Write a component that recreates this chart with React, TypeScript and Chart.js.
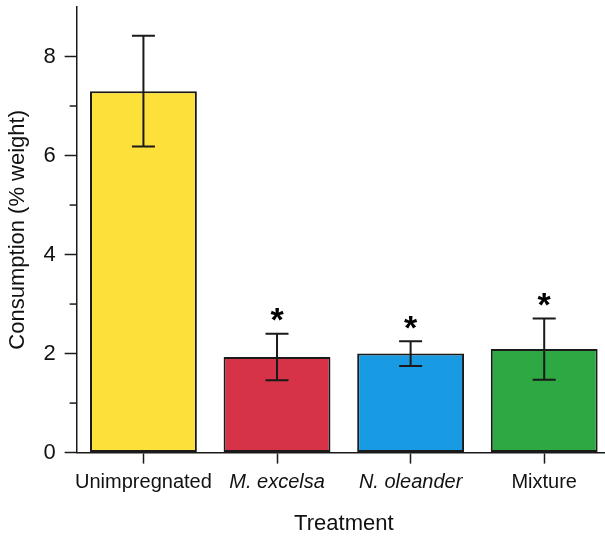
import React, { useEffect, useRef } from "react";
import { Chart, registerables } from "chart.js";

Chart.register(...registerables);

const categories = ["Unimpregnated", "M. excelsa", "N. oleander", "Mixture"];
const italicLabels = [false, true, true, false];
const means = [7.3, 1.93, 2.0, 2.09];
const errors = [1.12, 0.47, 0.25, 0.62];
const significance = ["", "*", "*", "*"];
const barColors = ["#FDE13A", "#D63349", "#189BE2", "#2DA843"];
const yTickValues = [0, 2, 4, 6, 8];
const yMinorTickValues = [1, 3, 5, 7];

const FONT = "'Liberation Sans', Arial, sans-serif";
const INK = "#1a1a1a";

const extrasPlugin = {
  id: "extras",
  afterDatasetsDraw(chart: any) {
    const { ctx, scales } = chart;
    const y = scales.y;
    const meta = chart.getDatasetMeta(0);
    ctx.save();
    ctx.strokeStyle = INK;
    ctx.lineWidth = 2;
    meta.data.forEach((bar: any, i: number) => {
      const x = bar.x;
      const top = y.getPixelForValue(means[i] + errors[i]);
      const bot = y.getPixelForValue(means[i] - errors[i]);
      const cap = 11.5;
      ctx.beginPath();
      ctx.moveTo(x, top);
      ctx.lineTo(x, bot);
      ctx.moveTo(x - cap, top);
      ctx.lineTo(x + cap, top);
      ctx.moveTo(x - cap, bot);
      ctx.lineTo(x + cap, bot);
      ctx.stroke();
      if (significance[i]) {
        const size = 34;
        ctx.fillStyle = "#000";
        ctx.font = `bold ${size}px ${FONT}`;
        ctx.textAlign = "center";
        ctx.textBaseline = "alphabetic";
        ctx.fillText(significance[i], x, top - 17 + 0.43 * size);
      }
    });
    ctx.lineWidth = 1.5;
    const left = chart.chartArea.left;
    yMinorTickValues.forEach((v) => {
      const py = y.getPixelForValue(v);
      ctx.beginPath();
      ctx.moveTo(left - 7, py);
      ctx.lineTo(left, py);
      ctx.stroke();
    });
    ctx.restore();
  },
};

export default function App() {
  const ref = useRef<HTMLCanvasElement | null>(null);
  useEffect(() => {
    if (!ref.current) return;
    const chart = new Chart(ref.current, {
      type: "bar",
      data: {
        labels: categories,
        datasets: [
          {
            data: means,
            backgroundColor: barColors,
            borderColor: INK,
            borderWidth: 2,
            borderSkipped: false,
            barPercentage: 0.8,
            categoryPercentage: 1,
          },
        ],
      },
      options: {
        animation: false,
        responsive: false,
        maintainAspectRatio: false,
        layout: { padding: { left: 1, right: 1, top: 0, bottom: 0 } },
        plugins: {
          legend: { display: false },
          tooltip: { enabled: false },
        },
        scales: {
          x: {
            offset: true,
            grid: {
              offset: false,
              drawOnChartArea: false,
              drawTicks: true,
              tickLength: 11,
              tickColor: INK,
              tickWidth: 1.5,
            },
            border: { display: true, color: INK, width: 1.5 },
            ticks: {
              color: "#111",
              padding: 7,
              autoSkip: false,
              maxRotation: 0,
              font: (c: any) => ({
                family: FONT,
                size: 20,
                style: italicLabels[c.index] ? "italic" : "normal",
              }),
            },
            title: {
              display: true,
              text: "Treatment",
              color: "#111",
              font: { family: FONT, size: 22 },
              padding: { top: 9, bottom: 0 },
            },
          },
          y: {
            min: 0,
            max: 9,
            afterBuildTicks: (scale: any) => {
              scale.ticks = yTickValues.map((v) => ({ value: v }));
            },
            afterFit: (scale: any) => {
              scale.paddingTop = 7;
              scale.paddingBottom = 0;
            },
            grid: {
              drawOnChartArea: false,
              drawTicks: true,
              tickLength: 12,
              tickColor: INK,
              tickWidth: 1.5,
            },
            border: { display: true, color: INK, width: 1.5 },
            ticks: {
              color: "#111",
              padding: 9,
              font: { family: FONT, size: 22 },
              callback: (v: any) => String(v),
            },
            title: {
              display: true,
              text: "Consumption (% weight)",
              color: "#111",
              font: { family: FONT, size: 22 },
              padding: { top: 4, bottom: 3 },
            },
          },
        },
      },
      plugins: [extrasPlugin],
    });
    return () => chart.destroy();
  }, []);
  return (
    <div
      style={{
        position: "fixed",
        left: 0,
        top: 0,
        width: 605,
        height: 537,
        overflow: "hidden",
        background: "#fff",
      }}
    >
      <canvas ref={ref} width={612} height={537} style={{ width: 612, height: 537, display: "block" }} />
    </div>
  );
}
